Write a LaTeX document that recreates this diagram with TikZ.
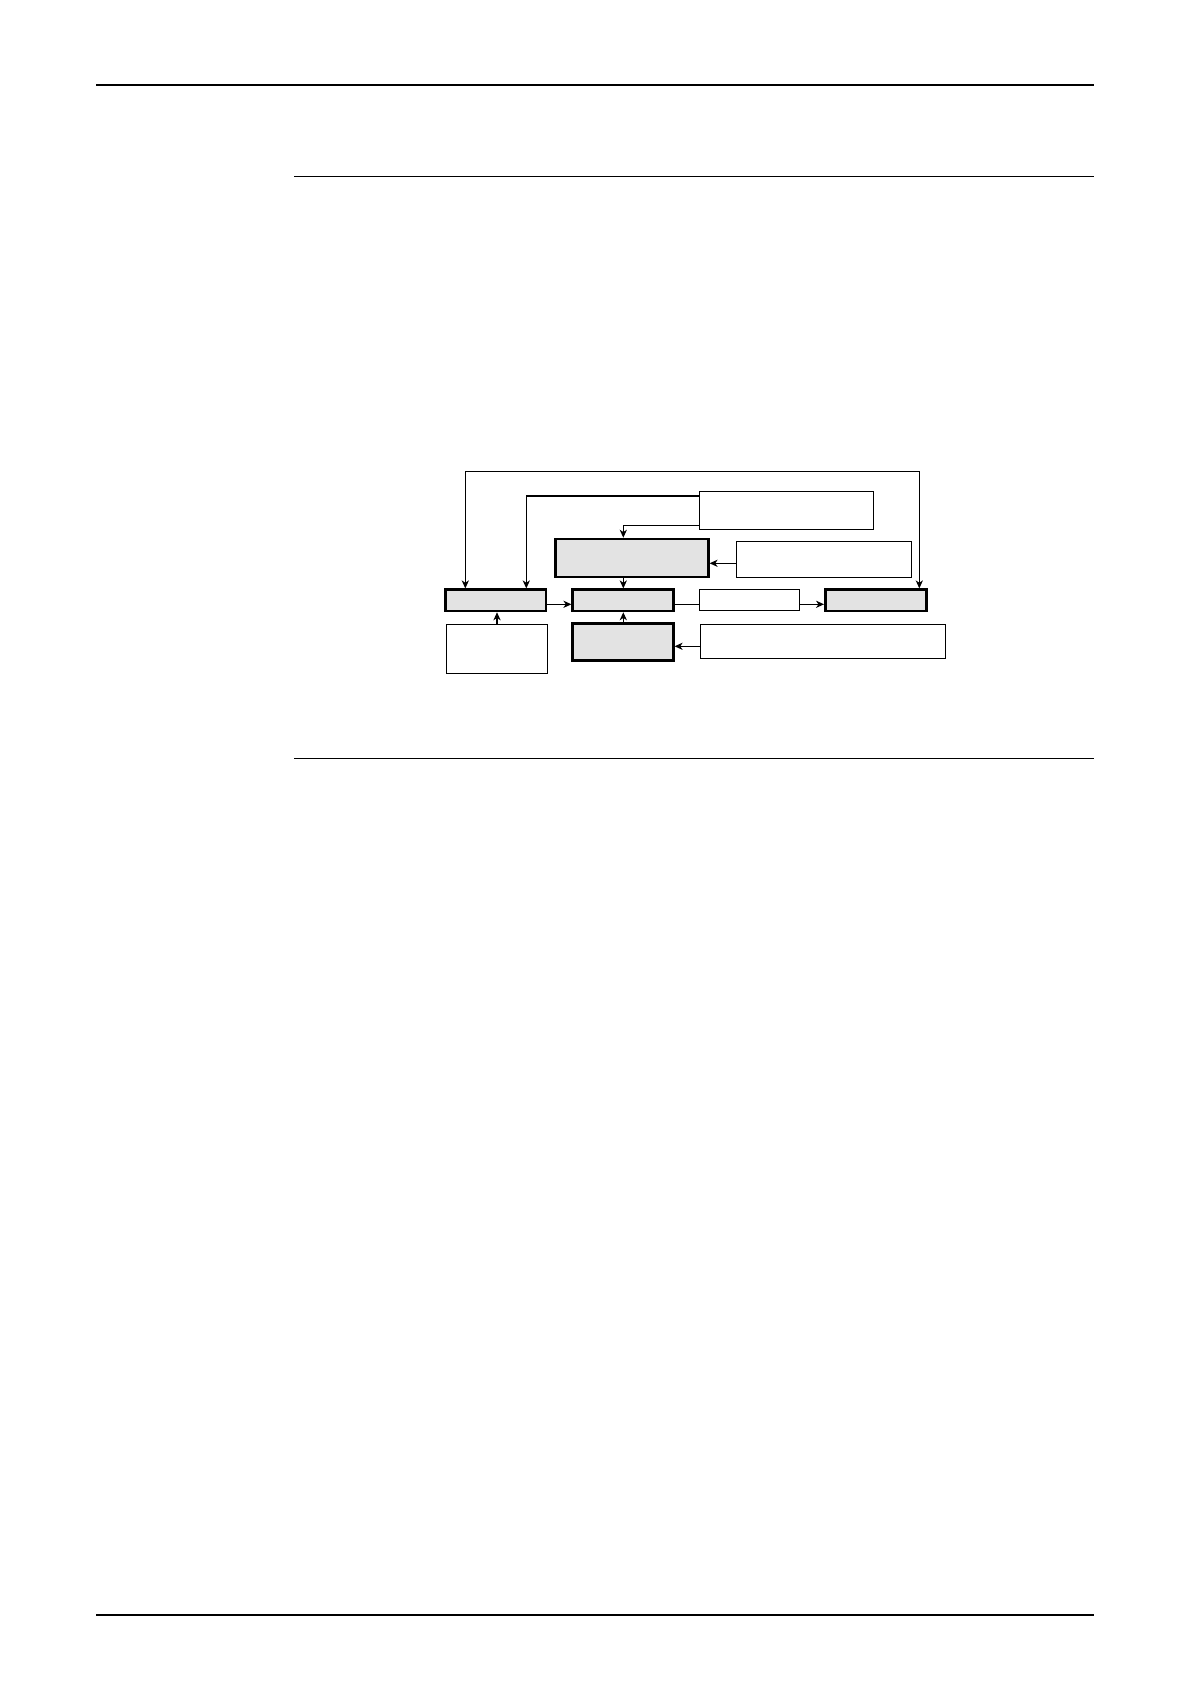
\documentclass[tikz,border=0pt]{standalone}
\usetikzlibrary{arrows.meta}
\definecolor{boxgrey}{HTML}{E3E3E3}
\begin{document}
\begin{tikzpicture}[x=0.5pt,y=-0.5pt,
  thinbox/.style={draw=black,line width=0.6pt,fill=white,inner sep=0pt,rectangle},
  thickbox/.style={draw=black,line width=1.3pt,fill=boxgrey,inner sep=0pt,rectangle},
  conn/.style={line width=0.55pt},
  arr/.style={conn,-{Stealth[length=4pt,width=3.6pt,inset=1.2pt]}},
  darr/.style={conn,{Stealth[length=4pt,width=3.6pt,inset=1.2pt]}-{Stealth[length=4pt,width=3.6pt,inset=1.2pt]}},
  rulel/.style={line width=0.6pt}]
\useasboundingbox (0,0) rectangle (1190,1684);
% page rules
\coordinate (ra1) at (96,85);   \coordinate (ra2) at (1094,85);
\coordinate (rb1) at (294,176.3); \coordinate (rb2) at (1094,176.3);
\coordinate (rc1) at (294,758.3); \coordinate (rc2) at (1094,758.3);
\coordinate (rd1) at (96,1615); \coordinate (rd2) at (1094,1615);
\draw[rulel] (ra1) -- (ra2);
\draw[rulel] (rb1) -- (rb2);
\draw[rulel] (rc1) -- (rc2);
\draw[rulel] (rd1) -- (rd2);
% boxes
\node[thinbox,minimum width=87.2pt,minimum height=19pt] (T1) at (786.5,510.3) {};
\node[thickbox,minimum width=76.3pt,minimum height=19pt] (B) at (632,558) {};
\node[thinbox,minimum width=87.5pt,minimum height=18pt] (C) at (823.8,559.3) {};
\node[thickbox,minimum width=50.15pt,minimum height=10.65pt] (D) at (495.85,600.35) {};
\node[thickbox,minimum width=50.3pt,minimum height=10.65pt] (E) at (623,600.35) {};
\node[thinbox,minimum width=50.2pt,minimum height=10.3pt] (F) at (749.5,600) {};
\node[thickbox,minimum width=50.5pt,minimum height=10.65pt] (G) at (875.8,600.35) {};
\node[thinbox,minimum width=50.7pt,minimum height=24.5pt] (H) at (497,648.8) {};
\node[thickbox,minimum width=50.3pt,minimum height=18.5pt] (I) at (623,641.8) {};
\node[thinbox,minimum width=122.7pt,minimum height=17pt] (J) at (823,641.3) {};
% connector helpers
\coordinate (l1) at (465.3,471.3);
\coordinate (l2) at (919.3,471.3);
\coordinate (l3) at (526.3,496);
\coordinate (l4) at (623.3,525.3);
\coordinate (c4) at (736.3,563.3);
\coordinate (rr) at (0,604.3);
\coordinate (jj) at (0,646.3);
% connectors
\draw[darr] (l1 |- D.north) -- (l1) -- (l2) -- (l2 |- G.north);
\draw[arr] (T1.west |- l3) -- (l3) -- (l3 |- D.north);
\draw[arr] (T1.west |- l4) -- (l4) -- (l4 |- B.north);
\draw[arr] (C.west |- c4) -- (B.east |- c4);
\draw[arr] (l4 |- B.south) -- (l4 |- E.north);
\draw[arr] (D.east |- rr) -- (E.west |- rr);
\draw[conn] (E.east |- rr) -- (F.west |- rr);
\draw[arr] (F.east |- rr) -- (G.west |- rr);
\draw[arr] (H.north) -- (H.north |- D.south);
\draw[arr] (l4 |- I.north) -- (l4 |- E.south);
\draw[arr] (J.west |- jj) -- (I.east |- jj);
\end{tikzpicture}
\end{document}
